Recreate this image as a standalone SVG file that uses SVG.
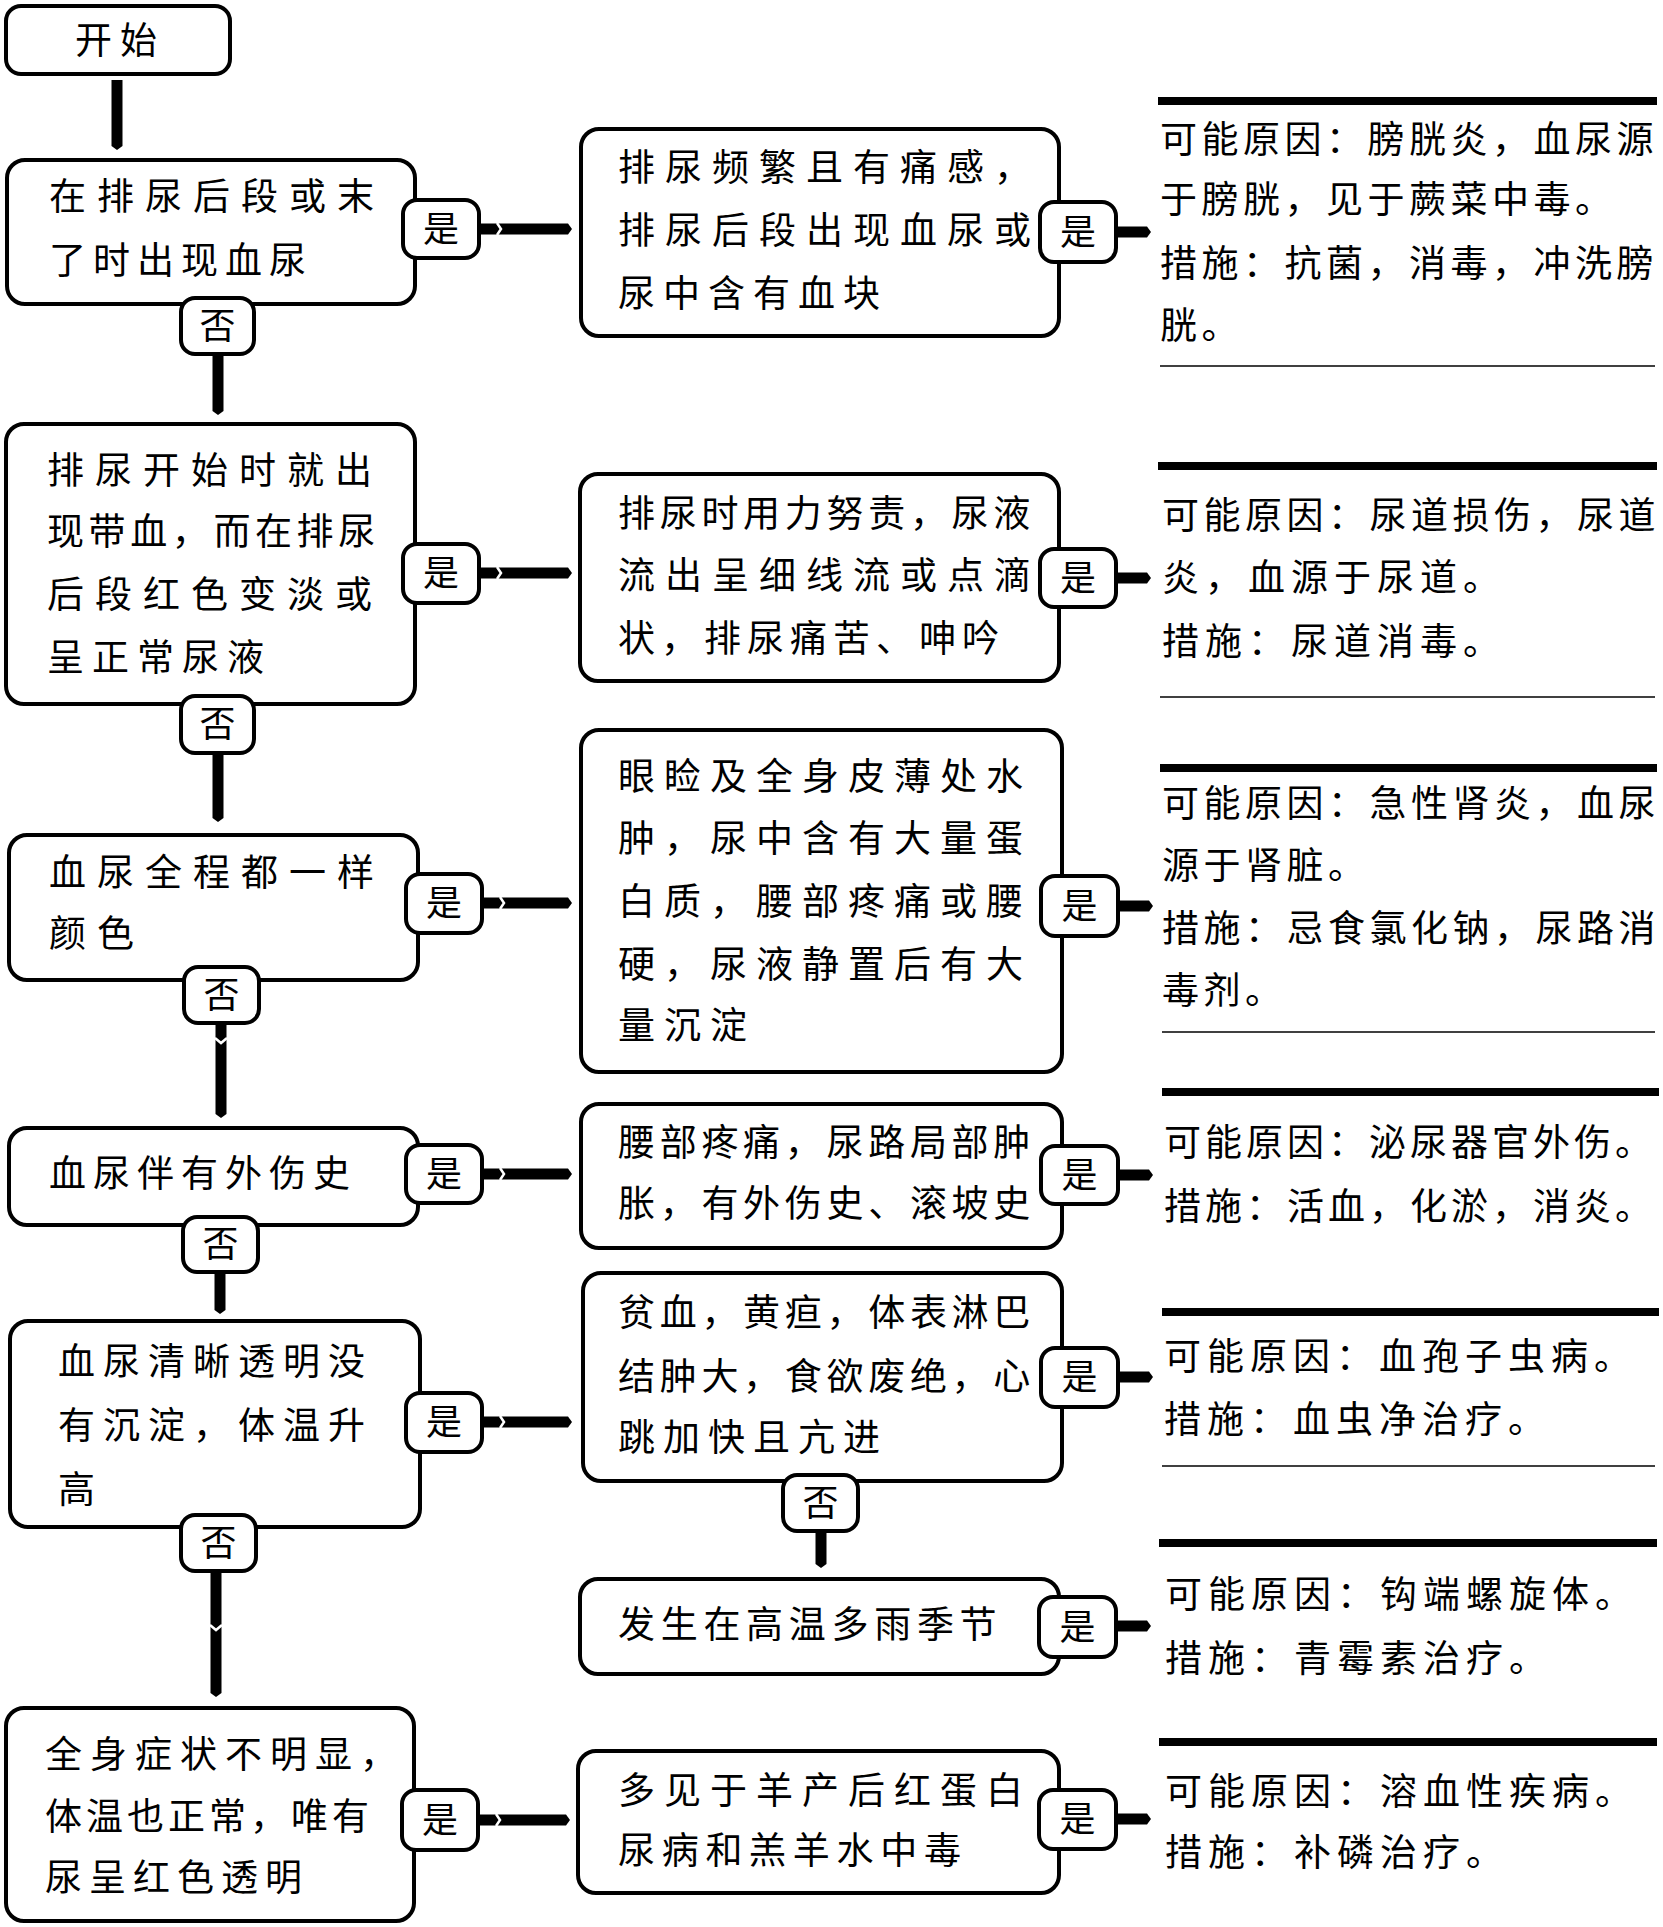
<svg xmlns="http://www.w3.org/2000/svg" width="1663" height="1927" viewBox="0 0 1663 1927">
<defs>
<style>
text{font-family:"Noto Sans CJK SC","Noto Sans",sans-serif;font-size:37px;fill:#000}
.box{fill:#fff;stroke:#000;stroke-width:4}
.badge{fill:#fff;stroke:#000;stroke-width:4}
.bl{text-anchor:middle;font-size:36px}
.con{stroke:#000;stroke-width:11;fill:none}
.chev{stroke:#fff;stroke-width:2.5;fill:none}
.top{fill:#000}
.bot{stroke:#000;stroke-width:1.5}
</style>
<marker id="tip" markerUnits="userSpaceOnUse" viewBox="0 -6 5 12" refX="0" refY="0" markerWidth="5" markerHeight="12" orient="auto">
<path d="M0,-5.5 L4,0 L0,5.5 Z" fill="#000"/>
</marker>
</defs>
<rect width="1663" height="1927" fill="#fff"/>

<g id="connectors">
<line class="con" x1="117" y1="80" x2="117" y2="146" marker-end="url(#tip)"/>
<line class="con" x1="218" y1="354" x2="218" y2="411" marker-end="url(#tip)"/>
<line class="con" x1="218" y1="753" x2="218" y2="818" marker-end="url(#tip)"/>
<line class="con" x1="221" y1="1023" x2="221" y2="1114" marker-end="url(#tip)"/>
<polyline class="chev" points="215,1038 221,1043 227,1038"/>
<line class="con" x1="220" y1="1272" x2="220" y2="1310" marker-end="url(#tip)"/>
<line class="con" x1="216" y1="1571" x2="216" y2="1693" marker-end="url(#tip)"/>
<polyline class="chev" points="210,1625 216,1630 222,1625"/>
<line class="con" x1="821" y1="1531" x2="821" y2="1564" marker-end="url(#tip)"/>

<line class="con" x1="479" y1="229" x2="568" y2="229" marker-end="url(#tip)"/>
<polyline class="chev" points="497,223 501,229 497,235"/>
<line class="con" x1="479" y1="573" x2="568" y2="573" marker-end="url(#tip)"/>
<polyline class="chev" points="497,567 501,573 497,579"/>
<line class="con" x1="482" y1="903" x2="568" y2="903" marker-end="url(#tip)"/>
<polyline class="chev" points="500,897 504,903 500,909"/>
<line class="con" x1="482" y1="1174" x2="568" y2="1174" marker-end="url(#tip)"/>
<polyline class="chev" points="500,1168 504,1174 500,1180"/>
<line class="con" x1="482" y1="1422" x2="568" y2="1422" marker-end="url(#tip)"/>
<polyline class="chev" points="500,1416 504,1422 500,1428"/>
<line class="con" x1="478" y1="1820" x2="566" y2="1820" marker-end="url(#tip)"/>
<polyline class="chev" points="496,1814 500,1820 496,1826"/>

<line class="con" x1="1116" y1="232" x2="1147" y2="232" marker-end="url(#tip)"/>
<line class="con" x1="1116" y1="578" x2="1147" y2="578" marker-end="url(#tip)"/>
<line class="con" x1="1118" y1="906" x2="1149" y2="906" marker-end="url(#tip)"/>
<line class="con" x1="1118" y1="1175" x2="1149" y2="1175" marker-end="url(#tip)"/>
<line class="con" x1="1118" y1="1377" x2="1149" y2="1377" marker-end="url(#tip)"/>
<line class="con" x1="1116" y1="1626" x2="1147" y2="1626" marker-end="url(#tip)"/>
<line class="con" x1="1116" y1="1819" x2="1147" y2="1819" marker-end="url(#tip)"/>
</g>

<g id="start">
<rect class="box" x="6" y="6" width="224" height="68" rx="15"/>
<text x="75" y="54" letter-spacing="8">开始</text>
</g>

<g id="q1">
<rect class="box" x="7" y="160" width="408" height="144" rx="18"/>
<text x="49" y="210" letter-spacing="11">在排尿后段或末</text>
<text x="49" y="274" letter-spacing="7">了时出现血尿</text>
<rect class="badge" x="403" y="200" width="76" height="58" rx="14"/>
<text class="bl" x="441" y="242">是</text>
<rect class="badge" x="181" y="298" width="73" height="56" rx="14"/>
<text class="bl" x="217.5" y="339">否</text>
</g>

<g id="q2">
<rect class="box" x="6" y="424" width="409" height="280" rx="18"/>
<text x="47" y="484" letter-spacing="11">排尿开始时就出</text>
<text x="47" y="545" letter-spacing="4.6">现带血，而在排尿</text>
<text x="47" y="608" letter-spacing="11">后段红色变淡或</text>
<text x="47" y="671" letter-spacing="8">呈正常尿液</text>
<rect class="badge" x="403" y="544" width="76" height="59" rx="14"/>
<text class="bl" x="441" y="586">是</text>
<rect class="badge" x="181" y="696" width="73" height="57" rx="14"/>
<text class="bl" x="217.5" y="737">否</text>
</g>

<g id="q3">
<rect class="box" x="9" y="835" width="409" height="145" rx="18"/>
<text x="49" y="886" letter-spacing="11">血尿全程都一样</text>
<text x="49" y="947" letter-spacing="11">颜色</text>
<rect class="badge" x="406" y="874" width="76" height="59" rx="14"/>
<text class="bl" x="444" y="916">是</text>
<rect class="badge" x="184" y="967" width="75" height="56" rx="14"/>
<text class="bl" x="221.5" y="1008">否</text>
</g>

<g id="q4">
<rect class="box" x="9" y="1128" width="409" height="97" rx="18"/>
<text x="49" y="1187" letter-spacing="7">血尿伴有外伤史</text>
<rect class="badge" x="406" y="1145" width="76" height="58" rx="14"/>
<text class="bl" x="444" y="1187">是</text>
<rect class="badge" x="183" y="1217" width="75" height="55" rx="14"/>
<text class="bl" x="220.5" y="1257">否</text>
</g>

<g id="q5">
<rect class="box" x="10" y="1321" width="410" height="206" rx="18"/>
<text x="58" y="1375" letter-spacing="8">血尿清晰透明没</text>
<text x="58" y="1439" letter-spacing="8">有沉淀，体温升</text>
<text x="58" y="1503">高</text>
<rect class="badge" x="406" y="1393" width="76" height="59" rx="14"/>
<text class="bl" x="444" y="1435">是</text>
<rect class="badge" x="181" y="1515" width="75" height="56" rx="14"/>
<text class="bl" x="218.5" y="1556">否</text>
</g>

<g id="q6">
<rect class="box" x="6" y="1708" width="408" height="213" rx="18"/>
<text x="45" y="1768" letter-spacing="8">全身症状不明显，</text>
<text x="45" y="1830" letter-spacing="4">体温也正常，唯有</text>
<text x="45" y="1891" letter-spacing="7">尿呈红色透明</text>
<rect class="badge" x="402" y="1790" width="76" height="60" rx="14"/>
<text class="bl" x="440" y="1833">是</text>
</g>

<g id="m1">
<rect class="box" x="581" y="129" width="478" height="207" rx="18"/>
<text x="618" y="181" letter-spacing="10">排尿频繁且有痛感，</text>
<text x="618" y="244" letter-spacing="10">排尿后段出现血尿或</text>
<text x="618" y="307" letter-spacing="8">尿中含有血块</text>
<rect class="badge" x="1040" y="202" width="76" height="60" rx="14"/>
<text class="bl" x="1078" y="245">是</text>
</g>

<g id="m2">
<rect class="box" x="580" y="474" width="479" height="207" rx="18"/>
<text x="618" y="527" letter-spacing="4.7">排尿时用力努责，尿液</text>
<text x="618" y="589" letter-spacing="10">流出呈细线流或点滴</text>
<text x="618" y="652" letter-spacing="6">状，排尿痛苦、呻吟</text>
<rect class="badge" x="1040" y="549" width="76" height="58" rx="14"/>
<text class="bl" x="1078" y="591">是</text>
</g>

<g id="m3">
<rect class="box" x="581" y="730" width="481" height="342" rx="18"/>
<text x="618" y="790" letter-spacing="9">眼睑及全身皮薄处水</text>
<text x="618" y="852" letter-spacing="9">肿，尿中含有大量蛋</text>
<text x="618" y="915" letter-spacing="9">白质，腰部疼痛或腰</text>
<text x="618" y="978" letter-spacing="9">硬，尿液静置后有大</text>
<text x="618" y="1039" letter-spacing="9">量沉淀</text>
<rect class="badge" x="1041" y="876" width="77" height="60" rx="14"/>
<text class="bl" x="1079.5" y="919">是</text>
</g>

<g id="m4">
<rect class="box" x="581" y="1104" width="481" height="144" rx="18"/>
<text x="618" y="1156" letter-spacing="4.7">腰部疼痛，尿路局部肿</text>
<text x="618" y="1217" letter-spacing="4.7">胀，有外伤史、滚坡史</text>
<rect class="badge" x="1041" y="1146" width="77" height="58" rx="14"/>
<text class="bl" x="1079.5" y="1188">是</text>
</g>

<g id="m5">
<rect class="box" x="583" y="1273" width="479" height="208" rx="18"/>
<text x="618" y="1326" letter-spacing="4.7">贫血，黄疸，体表淋巴</text>
<text x="618" y="1390" letter-spacing="4.7">结肿大，食欲废绝，心</text>
<text x="618" y="1451" letter-spacing="8">跳加快且亢进</text>
<rect class="badge" x="1041" y="1348" width="77" height="59" rx="14"/>
<text class="bl" x="1079.5" y="1390">是</text>
<rect class="badge" x="783" y="1475" width="75" height="56" rx="14"/>
<text class="bl" x="820.5" y="1516">否</text>
</g>

<g id="m6">
<rect class="box" x="580" y="1579" width="479" height="95" rx="18"/>
<text x="618" y="1638" letter-spacing="5.7">发生在高温多雨季节</text>
<rect class="badge" x="1039" y="1597" width="77" height="60" rx="14"/>
<text class="bl" x="1077.5" y="1640">是</text>
</g>

<g id="m7">
<rect class="box" x="578" y="1751" width="481" height="142" rx="18"/>
<text x="618" y="1804" letter-spacing="9">多见于羊产后红蛋白</text>
<text x="618" y="1864" letter-spacing="6.7">尿病和羔羊水中毒</text>
<rect class="badge" x="1039" y="1790" width="77" height="59" rx="14"/>
<text class="bl" x="1077.5" y="1832">是</text>
</g>

<g id="r1">
<rect class="top" x="1158" y="97" width="499" height="8"/>
<text x="1160" y="153" letter-spacing="4.5">可能原因：膀胱炎，血尿源</text>
<text x="1160" y="213" letter-spacing="4.5">于膀胱，见于蕨菜中毒。</text>
<text x="1160" y="277" letter-spacing="4.5">措施：抗菌，消毒，冲洗膀</text>
<text x="1160" y="339" letter-spacing="4.5">胱。</text>
<line class="bot" x1="1160" y1="366" x2="1655" y2="366"/>
</g>

<g id="r2">
<rect class="top" x="1158" y="462" width="499" height="8"/>
<text x="1162" y="529" letter-spacing="4.5">可能原因：尿道损伤，尿道</text>
<text x="1162" y="591" letter-spacing="6">炎，血源于尿道。</text>
<text x="1162" y="655" letter-spacing="6">措施：尿道消毒。</text>
<line class="bot" x1="1160" y1="697" x2="1655" y2="697"/>
</g>

<g id="r3">
<rect class="top" x="1160" y="764" width="497" height="8"/>
<text x="1162" y="817" letter-spacing="4.5">可能原因：急性肾炎，血尿</text>
<text x="1162" y="879" letter-spacing="4.5">源于肾脏。</text>
<text x="1162" y="942" letter-spacing="4.5">措施：忌食氯化钠，尿路消</text>
<text x="1162" y="1004" letter-spacing="4.5">毒剂。</text>
<line class="bot" x1="1162" y1="1032" x2="1655" y2="1032"/>
</g>

<g id="r4">
<rect class="top" x="1162" y="1088" width="497" height="8"/>
<text x="1164" y="1156" letter-spacing="4">可能原因：泌尿器官外伤。</text>
<text x="1164" y="1220" letter-spacing="4">措施：活血，化淤，消炎。</text>
</g>

<g id="r5">
<rect class="top" x="1162" y="1308" width="497" height="8"/>
<text x="1164" y="1370" letter-spacing="6">可能原因：血孢子虫病。</text>
<text x="1164" y="1433" letter-spacing="6">措施：血虫净治疗。</text>
<line class="bot" x1="1162" y1="1466" x2="1655" y2="1466"/>
</g>

<g id="r6">
<rect class="top" x="1159" y="1539" width="498" height="8"/>
<text x="1165" y="1608" letter-spacing="6">可能原因：钩端螺旋体。</text>
<text x="1165" y="1672" letter-spacing="6">措施：青霉素治疗。</text>
</g>

<g id="r7">
<rect class="top" x="1159" y="1738" width="498" height="8"/>
<text x="1165" y="1805" letter-spacing="6">可能原因：溶血性疾病。</text>
<text x="1165" y="1866" letter-spacing="6">措施：补磷治疗。</text>
</g>
</svg>
